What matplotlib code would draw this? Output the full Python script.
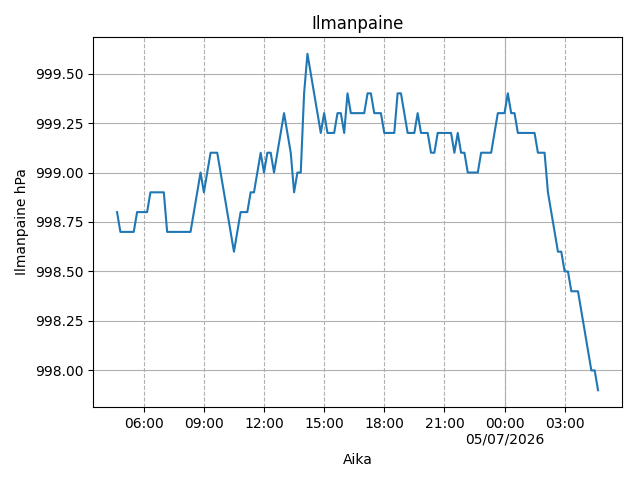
import pandas as pd
import matplotlib
matplotlib.use("Agg")
import matplotlib.pyplot as plt
import matplotlib.dates as mdates
from matplotlib.ticker import FuncFormatter

# Ilmanpaine 10 min valein, 04/07/2026 04:40 -> 05/07/2026 04:40
start = "2026-07-04 04:40"
pressure = [
    998.8, 998.7, 998.7, 998.7, 998.7, 998.7, 998.8, 998.8, 998.8, 998.8,
    998.9, 998.9, 998.9, 998.9, 998.9, 998.7, 998.7, 998.7, 998.7, 998.7,
    998.7, 998.7, 998.7, 998.8, 998.9, 999.0, 998.9, 999.0, 999.1, 999.1,
    999.1, 999.0, 998.9, 998.8, 998.7, 998.6, 998.7, 998.8, 998.8, 998.8,
    998.9, 998.9, 999.0, 999.1, 999.0, 999.1, 999.1, 999.0, 999.1, 999.2,
    999.3, 999.2, 999.1, 998.9, 999.0, 999.0, 999.4, 999.6, 999.5, 999.4,
    999.3, 999.2, 999.3, 999.2, 999.2, 999.2, 999.3, 999.3, 999.2, 999.4,
    999.3, 999.3, 999.3, 999.3, 999.3, 999.4, 999.4, 999.3, 999.3, 999.3,
    999.2, 999.2, 999.2, 999.2, 999.4, 999.4, 999.3, 999.2, 999.2, 999.2,
    999.3, 999.2, 999.2, 999.2, 999.1, 999.1, 999.2, 999.2, 999.2, 999.2,
    999.2, 999.1, 999.2, 999.1, 999.1, 999.0, 999.0, 999.0, 999.0, 999.1,
    999.1, 999.1, 999.1, 999.2, 999.3, 999.3, 999.3, 999.4, 999.3, 999.3,
    999.2, 999.2, 999.2, 999.2, 999.2, 999.2, 999.1, 999.1, 999.1, 998.9,
    998.8, 998.7, 998.6, 998.6, 998.5, 998.5, 998.4, 998.4, 998.4, 998.3,
    998.2, 998.1, 998.0, 998.0, 997.9,
]
times = pd.date_range(start, periods=len(pressure), freq="10min")
midnight = pd.Timestamp("2026-07-05 00:00")


def time_label(x, pos):
    d = mdates.num2date(x)
    if d.hour == 0 and d.minute == 0:
        return d.strftime("%H:%M\n%d/%m/%Y")
    return d.strftime("%H:%M")


fig, ax = plt.subplots(figsize=(6.4, 4.8), dpi=100)
ax.plot(times, pressure, color="tab:blue")

ax.xaxis.set_major_locator(mdates.HourLocator(byhour=range(0, 24, 3)))
ax.xaxis.set_major_formatter(FuncFormatter(time_label))

ax.grid(axis="y", color="#b0b0b0")
ax.grid(axis="x", linestyle="--", color="#b0b0b0")
ax.axvline(midnight, color="#b0b0b0", linewidth=0.8, zorder=0.5)

ax.set_title("Ilmanpaine")
ax.set_xlabel("Aika")
ax.set_ylabel("Ilmanpaine hPa")

plt.subplots_adjust(left=0.1453, right=0.972, top=0.923, bottom=0.152)
plt.savefig("out.png")
